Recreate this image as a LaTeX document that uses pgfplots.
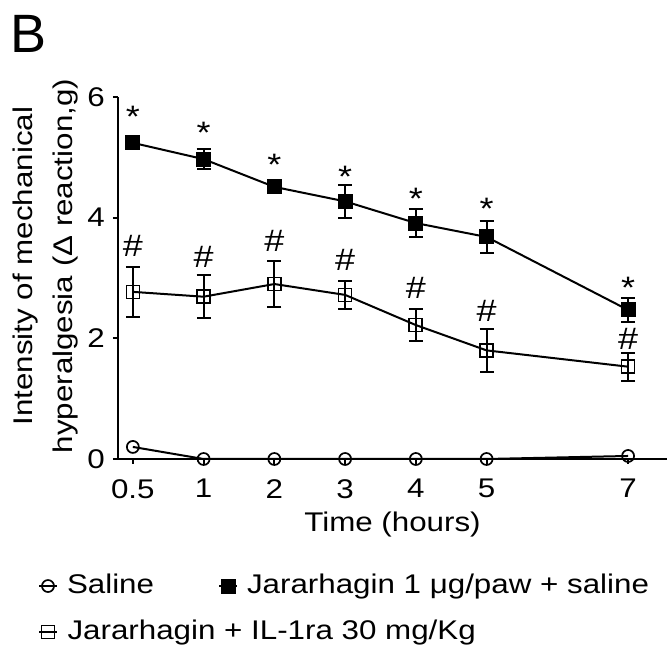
\documentclass[border=0pt]{standalone}
\usepackage{pgfplots}
\pgfplotsset{compat=1.18}
\usepackage{fontspec}
\setmainfont{Liberation Sans}[FakeStretch=1.16]
\newfontfamily\Bfont{Liberation Sans}
\begin{document}
\begin{tikzpicture}[x=1pt,y=1pt]
\path[use as bounding box] (-118,-193) rectangle (549,459);
\node[anchor=base west, inner sep=0pt, font=\Bfont\fontsize{54}{60}\selectfont] at (-108,406) {B};
\begin{axis}[
  scale only axis, width=549pt, height=362pt,
  xmin=-0.21, xmax=7.55, ymin=0, ymax=6,
  axis x line=bottom, axis y line=left,
  axis line style={-, line width=2pt},
  xtick={0,1,2,3,4,5,7}, xticklabels={0.5,1,2,3,4,5,7},
  ytick={0,2,4,6},
  tick align=outside, major tick length=5pt,
  tick style={line width=2pt, black},
  minor tick num=0,
  /pgf/number format/assume math mode=true,
  ticklabel style={font=\fontsize{27}{30}\selectfont, inner sep=0pt},
  yticklabel style={xshift=-8pt},
  xticklabel style={yshift=-15pt},
  xlabel={Time (hours)},
  xlabel style={font=\fontsize{27}{30}\selectfont, at={(axis description cs:0.5,0)}, anchor=base, yshift=-73pt, inner sep=0pt},
  ylabel={Intensity of mechanical\\hyperalgesia (Δ reaction,g)},
  ylabel style={font=\fontsize{27}{40}\selectfont, align=center, at={(axis description cs:-0.1315,0.533)}, anchor=center, inner sep=0pt},
  clip=false,
  legend columns=2,
  legend cell align=left,
  legend style={at={(axis description cs:-0.1457,-0.315)}, anchor=north west, draw=none, fill=none, inner sep=0pt, outer sep=0pt,
    font=\fontsize{27}{30}\selectfont, row sep=20pt,
    nodes={inner sep=0pt, text height=20pt, text depth=6pt},
    /tikz/every odd column/.append style={column sep=9pt},
    /tikz/every even column/.append style={column sep=64pt}},
  legend image code/.code={\draw[mark repeat=2,mark phase=2] plot coordinates {(0pt,0pt) (9pt,0pt) (18pt,0pt)};},
]
\addplot[black, line width=2pt, mark=o, mark size=6pt, mark options={line width=1.7pt}]
  coordinates {(0,0.2) (1,0) (2,0) (3,0) (4,0) (5,0) (7,0.05)};
\addlegendentry{Saline}

\addplot[black, line width=2pt, mark=square*, mark size=7pt, mark options={line width=1pt, fill=black},
  error bars/.cd, y dir=both, y explicit, error bar style={line width=2pt},
  error mark options={rotate=90, mark size=7pt, line width=2pt}]
  coordinates {(0,5.24) +- (0,0.08) (1,4.97) +- (0,0.17) (2,4.51) +- (0,0.08) (3,4.27) +- (0,0.27)
               (4,3.91) +- (0,0.23) (5,3.68) +- (0,0.27) (7,2.47) +- (0,0.2)};
\addlegendentry{Jararhagin 1 μg/paw + saline}

\addplot[black, line width=2pt, mark=square, mark size=6.5pt, mark options={line width=1.7pt},
  error bars/.cd, y dir=both, y explicit, error bar style={line width=2pt},
  error mark options={rotate=90, mark size=7pt, line width=2pt}]
  coordinates {(0,2.77) +- (0,0.41) (1,2.69) +- (0,0.36) (2,2.90) +- (0,0.38) (3,2.72) +- (0,0.23)
               (4,2.22) +- (0,0.26) (5,1.80) +- (0,0.35) (7,1.53) +- (0,0.23)};
\addlegendentry{\makebox[0pt][l]{Jararhagin + IL-1ra 30 mg/Kg}}

% significance marks
\begin{scope}[every node/.style={anchor=base, inner sep=0pt, font=\fontsize{31}{32}\selectfont}]
\node at (axis cs:0,5.495) {*};
\node at (axis cs:1,5.235) {*};
\node at (axis cs:2,4.705) {*};
\node at (axis cs:3,4.505) {*};
\node at (axis cs:4,4.135) {*};
\node at (axis cs:5,3.965) {*};
\node at (axis cs:7,2.665) {*};
\node at (axis cs:0,3.356) {\#};
\node at (axis cs:1,3.166) {\#};
\node at (axis cs:2,3.446) {\#};
\node at (axis cs:3,3.126) {\#};
\node at (axis cs:4,2.656) {\#};
\node at (axis cs:5,2.276) {\#};
\node at (axis cs:7,1.816) {\#};
\end{scope}
\end{axis}
\end{tikzpicture}
\end{document}
